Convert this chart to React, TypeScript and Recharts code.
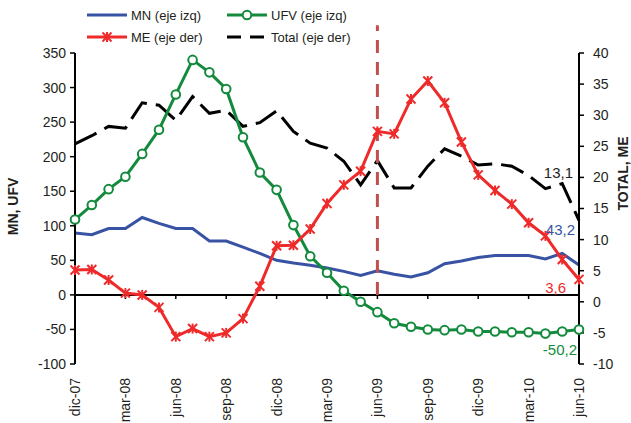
import React from "react";
import { LineChart, Line, XAxis, YAxis, ReferenceLine, Legend, LabelList } from "recharts";

const months = [
  "dic-07", "ene-08", "feb-08", "mar-08", "abr-08", "may-08", "jun-08", "jul-08", "ago-08", "sep-08",
  "oct-08", "nov-08", "dic-08", "ene-09", "feb-09", "mar-09", "abr-09", "may-09", "jun-09", "jul-09",
  "ago-09", "sep-09", "oct-09", "nov-09", "dic-09", "ene-10", "feb-10", "mar-10", "abr-10", "may-10", "jun-10",
];
// left axis (millones)
const mn = [89.5, 87, 96, 96, 112, 103.5, 96, 96, 78, 78, 69, 60, 50, 46, 43, 39, 34, 28, 35, 30, 26, 32, 45, 49, 54, 57, 57, 57, 52, 60, 43.2];
const ufv = [109, 130, 153, 171, 204, 239, 290, 340, 322, 298, 228, 177, 152, 101, 56, 32, 6, -10, -25, -41, -46, -50, -51, -50, -53, -53, -54, -54, -56, -53, -50.2];
// right axis
const me = [5.1, 5.2, 3.5, 1.4, 1.1, -0.9, -5.6, -4.3, -5.6, -5.0, -2.7, 2.5, 9.0, 9.1, 11.7, 15.8, 18.8, 21.0, 27.4, 27.0, 32.6, 35.5, 32.0, 25.7, 20.4, 17.9, 15.7, 12.7, 10.6, 6.8, 3.6];
const total = [25.4, 26.7, 28.2, 27.9, 32.0, 31.6, 29.2, 33.0, 30.3, 30.8, 28.2, 28.8, 30.7, 27.4, 25.5, 24.7, 22.6, 18.8, 22.7, 18.3, 18.3, 21.8, 24.6, 23.4, 22.0, 22.2, 21.8, 20.3, 18.2, 19.0, 13.1];

const leftTicks = [-100, -50, 0, 50, 100, 150, 200, 250, 300, 350];
const rightTicks = [-10, -5, 0, 5, 10, 15, 20, 25, 30, 35, 40];
const tickMonths = ["mar-08", "jun-08", "sep-08", "dic-08", "mar-09", "jun-09", "sep-09", "dic-09", "mar-10"];
const markerMonth = "jun-09";

const data = months.map((m, i) => ({ month: m, mn: mn[i], ufv: ufv[i], me: me[i], total: total[i] }));

const FONT = "'Liberation Sans', Arial, sans-serif";
const BLUE = "#3953a4";
const GREEN = "#138a3c";
const RED = "#ee2a2a";
const INK = "#231f20";

const Circle = (props: any) => {
  const { cx, cy } = props;
  if (cx == null || cy == null) return null;
  return <circle cx={cx} cy={cy} r={4.3} fill="#fff" stroke={GREEN} strokeWidth={2} />;
};

const Star = (props: any) => {
  const { cx, cy } = props;
  if (cx == null || cy == null) return null;
  const s = 4.5;
  return (
    <g stroke={RED} strokeWidth={2}>
      <line x1={cx - s} y1={cy - s} x2={cx + s} y2={cy + s} />
      <line x1={cx - s} y1={cy + s} x2={cx + s} y2={cy - s} />
      <line x1={cx} y1={cy - s - 0.5} x2={cx} y2={cy + s + 0.5} />
    </g>
  );
};

// value tag on the last point of each series, e.g. "43,2"
const endLabel = (color: string, dx: number, dy: number) => (props: any) => {
  const { x, y, value, index } = props;
  if (index !== months.length - 1) return null;
  return (
    <text x={x + dx} y={y + dy} fill={color} fontSize={15} fontFamily={FONT} textAnchor="end" dominantBaseline="central">
      {String(value).replace(".", ",")}
    </text>
  );
};

const MonthTick = (props: any) => {
  const { x, y, payload } = props;
  return (
    <text
      x={x}
      y={y}
      transform={`rotate(-90, ${x}, ${y})`}
      textAnchor="end"
      dy="0.36em"
      fontSize={14}
      fontFamily={FONT}
      fill={INK}
    >
      {payload.value}
    </text>
  );
};

const legendItems = [
  { name: "MN (eje izq)", color: BLUE, kind: "line" },
  { name: "UFV (eje izq)", color: GREEN, kind: "circle" },
  { name: "ME (eje der)", color: RED, kind: "star" },
  { name: "Total (eje der)", color: "#000", kind: "dash" },
];

const renderLegend = () => (
  <svg width={420} height={48} style={{ display: "block" }}>
    {legendItems.map((it, i) => {
      const x0 = 87 + (i % 2) * 140;
      const y = 15 + Math.floor(i / 2) * 22;
      return (
        <g key={it.name}>
          <line
            x1={x0}
            x2={x0 + 40}
            y1={y}
            y2={y}
            stroke={it.color}
            strokeWidth={3}
            strokeDasharray={it.kind === "dash" ? "14 9" : undefined}
          />
          {it.kind === "circle" && <Circle cx={x0 + 20} cy={y} />}
          {it.kind === "star" && <Star cx={x0 + 20} cy={y} />}
          <text x={x0 + 44} y={y} dominantBaseline="central" fontSize={13} fontFamily={FONT} fill={INK}>
            {it.name}
          </text>
        </g>
      );
    })}
  </svg>
);

export default function App() {
  return (
    <div style={{ position: "absolute", left: 0, top: 0, width: 631, height: 423, background: "#fff" }}>
      <LineChart width={631} height={423} data={data} margin={{ top: 53, right: 0, bottom: 0, left: 15 }}>
        <XAxis
          dataKey="month"
          scale="point"
          interval={2}
          axisLine={false}
          tickLine={false}
          tickSize={0}
          tickMargin={14}
          height={59}
          tick={<MonthTick />}
        />
        <YAxis
          yAxisId="izq"
          width={60}
          domain={[-100, 350]}
          ticks={leftTicks}
          interval={0}
          axisLine={{ stroke: "#000", strokeWidth: 2 }}
          tickLine={{ stroke: "#000", strokeWidth: 1.5 }}
          tickSize={5}
          tickMargin={4}
          tick={{ fontSize: 14, fontFamily: FONT, fill: INK }}
          label={{
            value: "MN, UFV",
            angle: -90,
            position: "insideLeft",
            dx: -7,
            dy: -2,
            style: { fontSize: 14, fontWeight: 700, fontFamily: FONT, fill: INK, textAnchor: "middle" },
          }}
        />
        <YAxis
          yAxisId="der"
          orientation="right"
          width={52}
          domain={[-10, 40]}
          ticks={rightTicks}
          interval={0}
          axisLine={{ stroke: "#000", strokeWidth: 2 }}
          tickLine={{ stroke: "#000", strokeWidth: 1.5 }}
          tickSize={5}
          tickMargin={9}
          tick={{ fontSize: 14, fontFamily: FONT, fill: INK }}
          label={{
            value: "TOTAL, ME",
            angle: -90,
            position: "insideRight",
            dx: -3,
            dy: -35,
            style: { fontSize: 14, fontWeight: 700, fontFamily: FONT, fill: INK, textAnchor: "middle" },
          }}
        />
        <Legend layout="horizontal" verticalAlign="middle" align="center" wrapperStyle={{ top: 0, left: 0, width: 420 }} content={renderLegend} />

        <ReferenceLine yAxisId="izq" y={0} stroke="#000" strokeWidth={2} />
        {tickMonths.map((m) => (
          <ReferenceLine
            key={m}
            yAxisId="izq"
            segment={[{ x: m, y: 0 }, { x: m, y: -6 }]}
            stroke="#000"
            strokeWidth={1.5}
          />
        ))}

        <Line yAxisId="der" dataKey="total" stroke="#000" strokeWidth={3} strokeDasharray="24 9" dot={false} isAnimationActive={false}>
          <LabelList dataKey="total" content={endLabel(INK, -6, -48)} />
        </Line>
        <Line yAxisId="izq" dataKey="mn" stroke={BLUE} strokeWidth={3} dot={false} isAnimationActive={false}>
          <LabelList dataKey="mn" content={endLabel(BLUE, -4, -36)} />
        </Line>
        <Line yAxisId="izq" dataKey="ufv" stroke={GREEN} strokeWidth={3} dot={<Circle />} isAnimationActive={false}>
          <LabelList dataKey="ufv" content={endLabel(GREEN, -2, 20)} />
        </Line>
        <ReferenceLine
          yAxisId="izq"
          segment={[{ x: markerMonth, y: 0 }, { x: markerMonth, y: 390 }]}
          ifOverflow="visible"
          stroke="#c0504d"
          strokeWidth={3}
          strokeDasharray="13 9"
        />
        <Line yAxisId="der" dataKey="me" stroke={RED} strokeWidth={3} dot={<Star />} isAnimationActive={false}>
          <LabelList dataKey="me" content={endLabel(RED, -13, 8)} />
        </Line>
      </LineChart>
    </div>
  );
}
